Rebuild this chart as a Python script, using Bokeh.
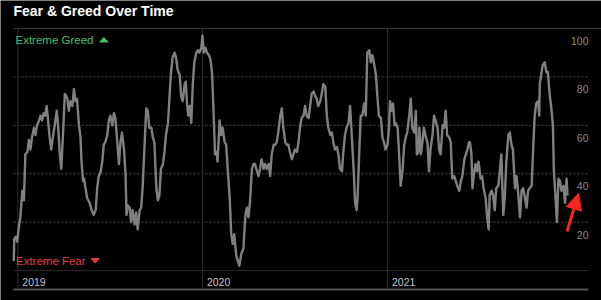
import numpy as np
import pandas as pd
from bokeh.plotting import figure
from bokeh.models import Range1d, Arrow, NormalHead
from bokeh.core.properties import value
from bokeh.embed import file_html
from bokeh.resources import INLINE

# ---------------- data ----------------
# days counted from 2019-01-01
days = [-8, -7, -4, -1, 2, 5, 9, 12, 15, 19, 22, 25, 28, 32, 35, 38, 42, 45, 48, 51,
        54, 57, 59, 63, 66, 70, 73, 77, 80, 83, 86, 90, 93, 96, 98, 101, 104, 108, 111, 114,
        117, 121, 124, 126, 129, 131, 134, 137, 142, 146, 150, 154, 157, 160, 164, 167, 170, 173, 177, 180,
        183, 187, 190, 193, 196, 200, 203, 206, 210, 213, 215, 217, 221, 224, 227, 231, 234, 237, 241, 244,
        247, 250, 254, 257, 260, 264, 267, 270, 274, 277, 280, 283, 287, 290, 293, 297, 300, 303, 306, 310,
        313, 316, 320, 323, 326, 330, 332, 335, 337, 340, 343, 346, 349, 353, 356, 359, 363, 365, 368, 371,
        374, 378, 381, 384, 387, 390, 393, 395, 399, 402, 405, 409, 412, 415, 419, 422, 425, 428, 432, 435,
        438, 442, 446, 450, 453, 456, 459, 463, 466, 469, 473, 476, 479, 482, 486, 489, 492, 496, 499, 502,
        506, 509, 512, 515, 519, 522, 525, 529, 532, 535, 538, 542, 545, 548, 552, 555, 558, 561, 565, 568,
        571, 575, 578, 581, 585, 588, 591, 594, 598, 601, 604, 608, 611, 614, 618, 621, 624, 627, 631, 634,
        637, 641, 644, 647, 650, 654, 657, 660, 664, 667, 670, 672, 675, 678, 681, 685, 688, 691, 695, 698,
        701, 704, 708, 711, 714, 718, 721, 724, 727, 731, 734, 736, 739, 742, 745, 747, 751, 754, 757, 761,
        764, 767, 770, 774, 777, 780, 784, 787, 789, 792, 794, 797, 800, 803, 807, 810, 813, 816, 820, 823,
        826, 830, 833, 836, 840, 843, 846, 849, 853, 856, 859, 863, 866, 869, 873, 876, 879, 883, 886, 889,
        892, 894, 897, 899, 902, 905, 908, 911, 915, 918, 921, 925, 928, 931, 933, 937, 940, 943, 946, 950,
        953, 956, 960, 963, 966, 970, 973, 976, 979, 983, 986, 989, 993, 996, 999, 1002, 1006, 1009, 1012, 1016,
        1019, 1022, 1025, 1029, 1031, 1032, 1035, 1038, 1042, 1045, 1048, 1052, 1055, 1058, 1060, 1063, 1066, 1069, 1072, 1075,
        1079, 1082, 1085, 1087]
fear_greed = [4, 13, 14, 12, 18, 22, 33, 29, 48, 49, 54, 50, 55, 59, 56, 60, 62, 64, 62, 65,
              64, 68, 64, 55, 50, 56, 60, 66, 59, 48, 42, 59, 73, 72, 71, 66, 70, 68, 75, 70,
              71, 60, 55, 45, 37, 38, 34, 30, 28, 25, 23, 25, 34, 39, 41, 45, 52, 53, 56, 62,
              64, 60, 65, 63, 55, 44, 53, 57, 50, 40, 23, 27, 26, 20, 25, 19, 24, 17, 25, 26,
              35, 49, 67, 66, 59, 59, 55, 53, 34, 29, 31, 42, 44, 49, 56, 61, 72, 82, 88, 90,
              88, 83, 81, 72, 70, 77, 78, 68, 64, 68, 61, 77, 86, 90, 91, 90, 92, 97, 90, 92,
              90, 89, 87, 82, 66, 48, 49, 45, 62, 56, 59, 53, 52, 42, 30, 15, 11, 15, 6, 4,
              2, 7, 9, 23, 26, 22, 28, 42, 44, 44, 41, 39, 42, 46, 42, 44, 42, 44, 39, 48,
              52, 52, 53, 57, 64, 67, 59, 53, 52, 52, 49, 46, 48, 50, 49, 53, 59, 63, 64, 68,
              64, 63, 68, 73, 74, 72, 71, 68, 70, 73, 77, 76, 64, 59, 56, 57, 53, 50, 51, 48,
              42, 41, 50, 56, 59, 61, 68, 57, 42, 28, 25, 31, 48, 64, 64, 69, 64, 90, 91, 86,
              89, 86, 81, 72, 64, 63, 55, 53, 50, 52, 59, 70, 66, 69, 60, 61, 59, 48, 35, 42,
              52, 55, 57, 64, 71, 59, 57, 66, 48, 49, 59, 48, 53, 59, 55, 53, 41, 50, 56, 64,
              62, 59, 50, 48, 60, 59, 66, 56, 55, 53, 38, 39, 37, 35, 33, 37, 39, 46, 48, 50,
              53, 53, 48, 34, 40, 44, 41, 45, 38, 39, 34, 30, 22, 17, 31, 33, 31, 25, 34, 35,
              41, 48, 23, 31, 45, 56, 57, 52, 50, 34, 39, 33, 22, 33, 34, 31, 26, 33, 34, 35,
              50, 64, 69, 70, 64, 77, 81, 85, 86, 82, 82, 72, 67, 60, 41, 31, 20, 38, 37, 33,
              35, 28, 38, 31]
year_ticks = ["2019-01-01", "2020-01-01", "2021-01-01"]
year_labels = ["2019", "2020", "2021"]
grid_values = [20, 40, 60, 80]
label_values = [20, 40, 60, 80, 100]

# ---------------- layout constants ----------------
W, H = 601, 300
BASE = pd.Timestamp("2019-01-01")
BASE_MS = BASE.value / 1e6
DAY_MS = 86400000.0
PX_PER_DAY = 0.50575
X0_PX = 17.3          # pixel column of 2019-01-01
PX_PER_UNIT = 2.4214
Y0_PX = 270.1         # pixel row of index value 0


def xd(px):
    return BASE_MS + (px - X0_PX) / PX_PER_DAY * DAY_MS


def yv(py):
    return (Y0_PX - py) / PX_PER_UNIT


FONT = value("Liberation Sans")

x_ms = BASE_MS + np.array(days, dtype=float) * DAY_MS
year_ms = [pd.Timestamp(d).value / 1e6 for d in year_ticks]

p = figure(width=W, height=H, output_backend="svg", toolbar_location=None,
           x_range=Range1d(xd(0), xd(W)), y_range=Range1d(yv(H), yv(0)),
           x_axis_location=None, y_axis_location=None, min_border=0,
           background_fill_color="black", border_fill_color="black",
           outline_line_color=None, title=None)
p.grid.visible = False

# top separator (100 level)
p.segment(x0=[xd(13)], y0=[100], x1=[xd(W)], y1=[100], line_color="#3a3a3a", line_width=1)
# dashed gridlines
p.segment(x0=[xd(13)] * len(grid_values), y0=grid_values, x1=[xd(588)] * len(grid_values), y1=grid_values,
          line_color="#4a4a4a", line_width=1, line_dash="2 2")
# zero line
p.segment(x0=[xd(13)], y0=[0], x1=[xd(588)], y1=[0], line_color="#2a2a2a", line_width=1)
# year separators
p.segment(x0=year_ms, y0=[yv(289)] * 3, x1=year_ms, y1=[100] * 3, line_color="#2c2c2c", line_width=1)
# bottom axis line
p.segment(x0=[xd(13)], y0=[yv(289)], x1=[xd(588)], y1=[yv(289)], line_color="#555555", line_width=2)

# year labels
p.text(x=year_ms, y=[yv(281)] * 3, text=year_labels, x_offset=4.5,
       text_align="left", text_baseline="middle", text_font=FONT,
       text_font_size="10.5px", text_color="#c4c4c4")
# value labels
p.text(x=[xd(588)] * len(label_values), y=[v - 12.4 / PX_PER_UNIT for v in label_values],
       text=[str(v) for v in label_values], text_align="right", text_baseline="middle",
       text_font=FONT, text_font_size="10.5px", text_color="#8a8a8a")

# data line
p.line(x=x_ms, y=fear_greed, line_color="#808080", line_width=2.4, line_join="round")

# title
p.text(x=[xd(13)], y=[yv(10)], text=["Fear & Greed Over Time"], text_align="left",
       text_baseline="middle", text_font=FONT, text_font_size="14px",
       text_font_style="bold", text_color="#ffffff")

# extreme labels
GREEN = "#46c06a"
RED = "#e23c45"
p.text(x=[xd(15)], y=[yv(39)], text=["Extreme Greed"], text_align="left", text_baseline="middle",
       text_font=FONT, text_font_size="11.5px", text_color=GREEN)
p.patch(x=[xd(99.3), xd(107.3), xd(103.3)], y=[yv(41.5), yv(41.5), yv(37)],
        fill_color=GREEN, line_color=GREEN)
p.text(x=[xd(15.5)], y=[yv(260)], text=["Extreme Fear"], text_align="left", text_baseline="middle",
       text_font=FONT, text_font_size="11.5px", text_color=RED)
p.patch(x=[xd(90.7), xd(98.7), xd(94.7)], y=[yv(258), yv(258), yv(262.5)],
        fill_color=RED, line_color=RED)

# red arrow pointing to the latest reading
ARROW = "#f5261f"
p.add_layout(Arrow(end=NormalHead(size=16, fill_color=ARROW, line_color=ARROW),
                   x_start=xd(566.5), y_start=yv(231), x_end=xd(578), y_end=yv(193),
                   line_color=ARROW, line_width=3))

open("out.html", "w").write(file_html(p, INLINE))
